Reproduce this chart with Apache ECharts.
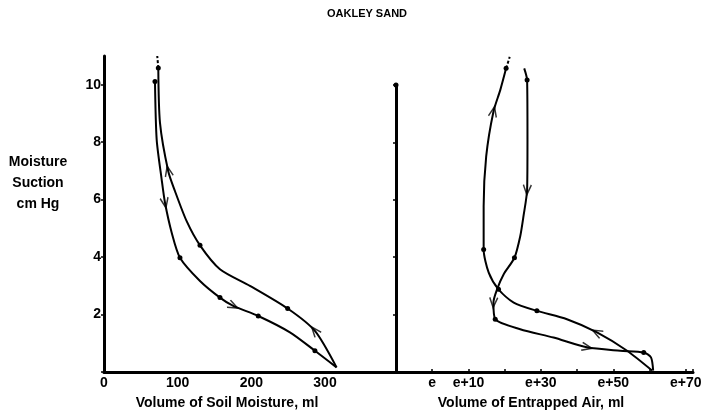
<!DOCTYPE html>
<html>
<head>
<meta charset="utf-8">
<script src="https://cdn.jsdelivr.net/npm/echarts@6/dist/echarts.min.js"></script>
<style>
  html, body { margin: 0; padding: 0; background: #fff; }
  #chart { width: 709px; height: 419px; }
</style>
</head>
<body>
<div id="chart"></div>
<script>
// 读图得到的数据 (x, 吸力 cmHg)
var soilDrying = [
  [315.7, 0.16], [286.3, 1.43], [249.3, 2.21], [198.1, 3.0], [157.4, 3.58],
  [130.3, 4.41], [112.2, 5.25], [96.3, 6.3], [87.2, 6.99], [76.0, 8.67],
  [73.7, 10.58]
];
var soilWetting = [
  [69.2, 10.11], [71.5, 8.09], [78.3, 6.7], [82.8, 5.89], [91.9, 4.85],
  [103.1, 3.98], [130.3, 3.17], [157.4, 2.59], [175.4, 2.3], [209.4, 1.95],
  [252.4, 1.38], [286.3, 0.74], [315.7, 0.16]
];
var airDrying = [
  [60.7, 0.05], [53.8, 0.74], [45.5, 1.38], [37.2, 1.84], [28.9, 2.13],
  [22.5, 2.42], [18.3, 2.88], [15.6, 3.46], [14.2, 4.27], [14.2, 5.77],
  [14.9, 7.51], [16.9, 9.07], [18.8, 9.83], [20.4, 10.58]
];
var airWetting = [
  [25.4, 10.58], [26.2, 10.17], [26.3, 8.09], [26.2, 6.35], [25.2, 5.43],
  [24.3, 4.73], [22.7, 3.98], [19.7, 3.4], [17.9, 2.88], [16.9, 2.42],
  [17.4, 1.84], [24.3, 1.49], [33.5, 1.2], [42.7, 0.86], [51.9, 0.74],
  [58.4, 0.68], [60.4, 0.51], [61.0, 0.05]
];
// 顶部虚线延长段
var soilDryingTop = [[73.7, 10.58], [72.3, 11.0]];
var airDryingTop = [[20.4, 10.58], [21.4, 10.98]];

// 带圆点和箭头的点 (下标)
var soilDryingDots = [2, 5, 10];
var soilWettingDots = [0, 5, 7, 9, 11];
var airDryingDots = [4, 6, 8, 13];
var airWettingDots = [1, 6, 10, 15];
var soilDryingArrows = [1, 8];
var soilWettingArrows = [3, 8];
var airDryingArrows = [2, 11];
var airWettingArrows = [3, 9, 13];

var soilTicks = [0, 100, 200, 300];
var suctionTicks = [2, 4, 6, 8, 10];
var airTickValues = [0, 10, 30, 50, 70];
var airTickLabels = ["e", "e+10", "e+30", "e+50", "e+70"];

var chart = echarts.init(document.getElementById("chart"));

var FONT = "Liberation Sans";
var G0 = { left: 104, top: 56, width: 291, height: 316, xmin: 0, xmax: 395, ymax: 11 };
var G1 = { left: 396, top: 85, width: 297, height: 287, xmin: -10, xmax: 72, ymax: 10 };

function curve(data, dots, gi) {
  return {
    type: "line",
    xAxisIndex: gi, yAxisIndex: gi,
    smooth: 0.25,
    clip: false,
    data: data.map(function(p, i) {
      return {
        value: p,
        symbol: dots.indexOf(i) >= 0 ? "circle" : "none",
        symbolSize: 5
      };
    }),
    lineStyle: { color: "#000", width: 2 },
    itemStyle: { color: "#000" },
    z: 3
  };
}

function dashed(data, gi) {
  return {
    type: "line",
    xAxisIndex: gi, yAxisIndex: gi,
    clip: false,
    showSymbol: false,
    data: data,
    lineStyle: { color: "#000", width: 2, type: [3, 2] }
  };
}

// 箭头方向取相邻点的切线
function arrows(data, idx, gi, g) {
  var kx = g.width / (g.xmax - g.xmin);
  var ky = g.height / g.ymax;
  return {
    type: "scatter",
    xAxisIndex: gi, yAxisIndex: gi,
    clip: false,
    data: idx.map(function(i) {
      var a = data[Math.max(i - 1, 0)], b = data[Math.min(i + 1, data.length - 1)];
      var dx = (b[0] - a[0]) * kx, dy = (b[1] - a[1]) * ky;
      return {
        value: data[i],
        symbolRotate: Math.atan2(-dx, dy) * 180 / Math.PI
      };
    }),
    symbol: "path://M0,9 L4,0 L8,9",
    symbolSize: [8, 10],
    itemStyle: { color: "transparent", borderColor: "#000", borderWidth: 1.6 },
    z: 4
  };
}

var labelStyle = { color: "#000", fontFamily: FONT, fontWeight: "bold", fontSize: 14 };

function label(text, x, y, size, lh) {
  return {
    type: "text", x: x, y: y,
    style: {
      text: text, align: "center", verticalAlign: "top",
      lineHeight: lh || size, fill: "#000", font: "bold " + size + "px " + FONT
    }
  };
}

var option = {
  animation: false,
  backgroundColor: "#fff",
  grid: [
    { left: G0.left, top: G0.top, width: G0.width, height: G0.height },
    { left: G1.left, top: G1.top, width: G1.width, height: G1.height }
  ],
  xAxis: [
    {
      gridIndex: 0, type: "value", min: G0.xmin, max: G0.xmax, interval: 100,
      axisLine: { lineStyle: { color: "#000", width: 3 } },
      axisTick: { show: false },
      splitLine: { show: false },
      axisLabel: Object.assign({
        margin: 4,
        showMaxLabel: false,
        formatter: function(v) { return soilTicks.indexOf(v) >= 0 ? String(v) : ""; }
      }, labelStyle)
    },
    {
      gridIndex: 1, type: "value", min: G1.xmin, max: G1.xmax, interval: 10,
      axisLine: { onZero: false, lineStyle: { color: "#000", width: 3 } },
      axisTick: { inside: true, length: 3, lineStyle: { color: "#000", width: 1.5 } },
      splitLine: { show: false },
      axisLabel: Object.assign({
        margin: 4,
        formatter: function(v) {
          var k = airTickValues.indexOf(v);
          return k >= 0 ? airTickLabels[k] : "";
        }
      }, labelStyle)
    }
  ],
  yAxis: [
    {
      gridIndex: 0, type: "value", min: 0, max: G0.ymax, interval: 2,
      axisLine: { show: true, lineStyle: { color: "#000", width: 3 } },
      axisTick: { show: true, inside: false, length: 3, lineStyle: { color: "#000", width: 1.5 } },
      splitLine: { show: false },
      axisLabel: Object.assign({
        margin: 3,
        showMaxLabel: false,
        formatter: function(v) { return suctionTicks.indexOf(v) >= 0 ? String(v) : ""; }
      }, labelStyle)
    },
    {
      gridIndex: 1, type: "value", min: 0, max: G1.ymax, interval: 2,
      axisLine: { show: true, onZero: false, symbol: ["none", "circle"], symbolSize: [5, 5],
        lineStyle: { color: "#000", width: 3 } },
      axisTick: { show: true, length: 3, lineStyle: { color: "#000", width: 1.5 } },
      splitLine: { show: false },
      axisLabel: { show: false }
    }
  ],
  graphic: [
    label("OAKLEY SAND", 367, 8, 11),
    label("Moisture\nSuction\ncm Hg", 38, 152, 14, 21),
    label("Volume of Soil Moisture, ml", 227, 396, 14),
    label("Volume of Entrapped Air, ml", 531, 396, 14)
  ],
  series: [
    curve(soilDrying, soilDryingDots, 0),
    curve(soilWetting, soilWettingDots, 0),
    curve(airDrying, airDryingDots, 1),
    curve(airWetting, airWettingDots, 1),
    dashed(soilDryingTop, 0),
    dashed(airDryingTop, 1),
    arrows(soilDrying, soilDryingArrows, 0, G0),
    arrows(soilWetting, soilWettingArrows, 0, G0),
    arrows(airDrying, airDryingArrows, 1, G1),
    arrows(airWetting, airWettingArrows, 1, G1)
  ]
};

chart.setOption(option);
</script>
</body>
</html>
